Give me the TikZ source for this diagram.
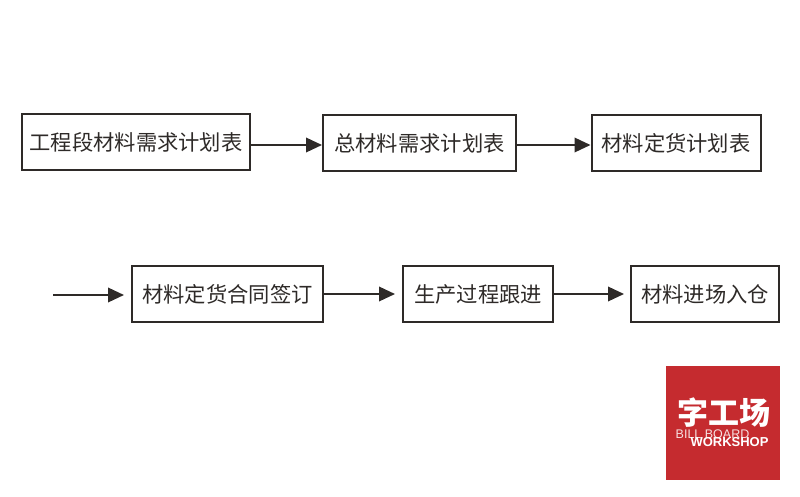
\documentclass[tikz,border=0pt]{standalone}
\usepackage{fontspec}
\setsansfont{Liberation Sans}
\newfontfamily\cjk{Noto Sans CJK SC}
\usetikzlibrary{arrows.meta,positioning}

\definecolor{ink}{HTML}{2E2A28}
\definecolor{logored}{HTML}{C52B2F}

\begin{document}
\begin{tikzpicture}[x=1pt,y=-1pt,>={Triangle[length=16pt,width=14.5pt]},
  stage/.style={draw=ink,line width=2pt,inner sep=0pt,minimum height=56pt,text=ink,font=\cjk\fontsize{21.3}{21.3}\selectfont},
  flow/.style={->,draw=ink,line width=2pt}]
\useasboundingbox (0,0) rectangle (800,497);
\node[stage,minimum width=228pt] (table) at (136,142) {工程段材料需求计划表};
\node[stage,minimum width=193pt] (total) [right=71pt of table,yshift=-1pt] {总材料需求计划表};
\node[stage,minimum width=169pt] (order) [right=73.5pt of total] {材料定货计划表};
\coordinate (rowa) at (0,145);
\coordinate (start) at (53,295);
\node[stage,minimum width=191pt] (contract) at (227.5,294) {材料定货合同签订};
\node[stage,minimum width=150pt] (produce) [right=78pt of contract] {生产过程跟进};
\node[stage,minimum width=148pt] (store) [right=76pt of produce] {材料进场入仓};
\draw[flow] (table.east |- rowa) -- (total.west |- rowa);
\draw[flow] (total.east |- rowa) -- (order.west |- rowa);
\draw[flow,shorten >=7pt] (start) -- (contract.west |- start);
\draw[flow,shorten >=7pt] (contract) -- (produce);
\draw[flow,shorten >=6pt] (produce) -- (store);
% logo
\node[fill=logored,inner sep=0pt,minimum size=114pt] (logo) at (723,423) {};
\node[text=white,inner sep=0pt,font=\cjk\bfseries\fontsize{31}{31}\selectfont] (logocn) at (724,413) {字工场};
\node[text=white!85!logored,inner sep=0pt,font=\sffamily\fontsize{12.5}{12.5}\selectfont] (logoen) at (712.5,434.5) {BILL BOARD};
\node[text=white,inner sep=0pt,font=\sffamily\bfseries\fontsize{13}{13}\selectfont] (logows) at (729.5,442) {WORKSHOP};
\end{tikzpicture}
\end{document}
